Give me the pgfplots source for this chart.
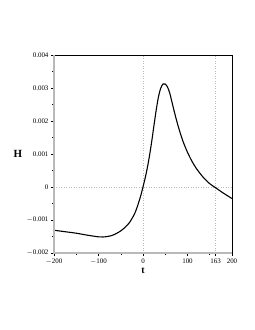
\documentclass[border=0pt]{standalone}
\usepackage{pgfplots}
\pgfplotsset{compat=1.18}
\usepackage{fontspec}
\setmainfont{Liberation Serif}
\begin{document}
\begin{tikzpicture}[x=1bp,y=1bp]
\path[use as bounding box] (0,0) rectangle (255,330);
\begin{axis}[
  at={(54bp,77bp)}, anchor=south west,
  scale only axis, width=178bp, height=198bp,
  xmin=-200, xmax=200, ymin=-0.002, ymax=0.004,
  axis line style={draw=none},
  xtick={-200,-100,0,100,163,200},
  xticklabels={$-$200,$-$100,0,100,163,200},
  minor xtick={-150,-50,50,150},
  ytick={-0.002,-0.001,0,0.001,0.002,0.003,0.004},
  yticklabels={$-$0.002,$-$0.001,0,0.001,0.002,0.003,0.004},
  minor ytick={-0.0015,-0.0005,0.0005,0.0015,0.0025,0.0035},
  scaled y ticks=false,
  xtick pos=bottom, ytick pos=left,
  tick align=outside,
  major tick length=3bp, minor tick length=2bp,
  tick style={black, line width=0.5pt},
  tick label style={font=\fontsize{7}{8}\selectfont},
  /pgf/number format/assume math mode=true,
  xticklabel style={yshift=1bp},
  yticklabel style={xshift=1bp},
  xlabel={\textbf{t}}, ylabel={\textbf{H}},
  every axis x label/.style={at={(axis description cs:0.5,0)}, anchor=center, yshift=-18bp, font=\fontsize{10}{11}\selectfont},
  every axis y label/.style={at={(axis description cs:0,0.5)}, anchor=center, xshift=-36bp, font=\fontsize{11}{12}\selectfont},
  clip=false,
]
\draw[gray!55, dotted, line width=0.5pt] (axis cs:0,-0.002) -- (axis cs:0,0.004);
\draw[gray!55, dotted, line width=0.5pt] (axis cs:163,-0.002) -- (axis cs:163,0.004);
\draw[gray!55, dotted, line width=0.5pt] (axis cs:-200,0) -- (axis cs:200,0);
\addplot[black, line width=1.1pt, smooth] coordinates {
(-200,-0.00131) (-175,-0.001355) (-150,-0.00140) (-125,-0.00146) (-100,-0.00151)
(-90,-0.001515) (-80,-0.00150) (-70,-0.00147) (-60,-0.00141) (-50,-0.00133)
(-40,-0.00122) (-30,-0.00107) (-20,-0.00084) (-15,-0.00068) (-10,-0.00048)
(-5,-0.00026) (0,0.0) (5,0.00028) (10,0.00060) (15,0.00098)
(20,0.00142) (25,0.00190) (30,0.00236) (35,0.00275) (40,0.00300)
(45,0.00312) (50,0.00312) (55,0.00303) (60,0.00285) (65,0.00258)
(70,0.00230) (75,0.00204) (80,0.00180) (85,0.00158) (90,0.00138)
(95,0.00121) (100,0.00105) (110,0.00078) (120,0.00056) (135,0.00030)
(150,0.00010) (165,-0.00004) (180,-0.00018) (200,-0.00035)
};
\draw[black, line width=0.6pt] (rel axis cs:0,1) -- (rel axis cs:1,1) -- (rel axis cs:1,0);
\draw[gray!55, line width=1.2pt] (rel axis cs:0,1) -- (rel axis cs:0,0) -- (rel axis cs:1,0);
\end{axis}
\end{tikzpicture}
\end{document}
